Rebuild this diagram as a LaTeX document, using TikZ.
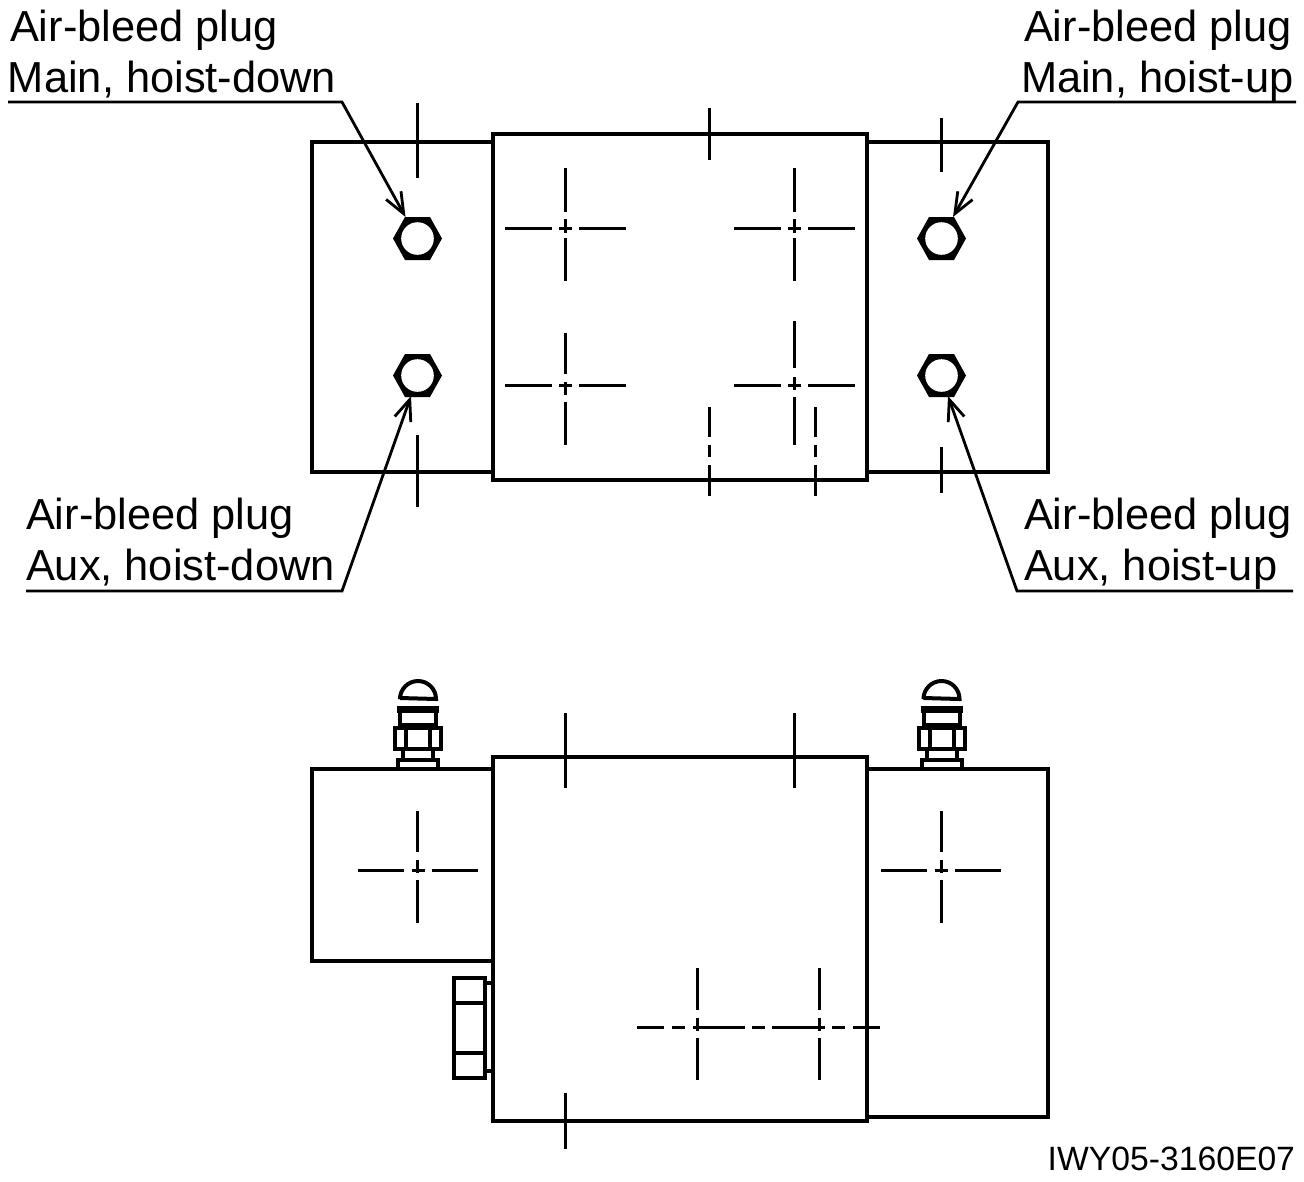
\documentclass[tikz,border=0pt]{standalone}
\usepackage{fontspec}
\setmainfont{Liberation Sans}
\usetikzlibrary{arrows.meta}
\tikzset{
  body/.style={draw=black,line width=4pt,line join=miter},
  thin axis/.style={draw=black,line width=3pt},
  leader/.style={draw=black,line width=2.8pt,-{Straight Barb[length=21pt,width=17pt,line width=2.8pt]}},
  label/.style={anchor=base west,inner sep=0pt,outer sep=0pt,font=\fontsize{43.4}{43.4}\selectfont},
  code/.style={anchor=base east,inner sep=0pt,outer sep=0pt,font=\fontsize{33.7}{33.7}\selectfont},
}
\newcommand{\hexplug}[2]{%
  \fill[black] (#1-24.5,#2) -- (#1-12.5,#2-21.5) -- (#1+12.5,#2-21.5) -- (#1+24.5,#2) -- (#1+12.5,#2+21.5) -- (#1-12.5,#2+21.5) -- cycle;
  \fill[white] (#1,#2) circle[radius=16.3];
}
\newcommand{\topplug}[1]{%
  \draw[body] (#1-18,698) -- (#1-18,699) arc[start angle=180,end angle=360,radius=18] -- (#1+18,699) -- cycle;
  \draw[body,line width=7pt] (#1-21,709.5) -- (#1+21,709.5);
  \draw[body] (#1-18,709) -- (#1-18,727) (#1+18,709) -- (#1+18,727);
  \draw[body,line width=6pt] (#1-18,726) -- (#1+18,726);
  \draw[body] (#1-23,728) rectangle (#1+23,749);
  \draw[body] (#1-12,728) -- (#1-12,749) (#1+12,728) -- (#1+12,749);
  \draw[body] (#1-15,749) -- (#1-15,760) (#1+15,749) -- (#1+15,760);
  \draw[body] (#1-20,769) -- (#1-20,760) -- (#1+20,760) -- (#1+20,769);
}
\begin{document}
\begin{tikzpicture}[x=1pt,y=-1pt]
\useasboundingbox (0,0) rectangle (1304,1181);

% top view bodies
\draw[body] (493,142) -- (312,142) -- (312,472) -- (493,472);
\draw[body] (867,142) -- (1048,142) -- (1048,472) -- (867,472);
\draw[body] (493,134) rectangle (867,480);

% top view axes
\draw[thin axis] (417,103) -- (417,178) (417,435) -- (417,507);
\draw[thin axis] (941,118) -- (941,172) (941,447) -- (941,493);
\draw[thin axis] (709,108) -- (709,160);
\draw[thin axis] (709,407) -- (709,437) (709,445) -- (709,457) (709,465) -- (709,496);
\draw[thin axis] (815,407) -- (815,437) (815,445) -- (815,457) (815,465) -- (815,496);
\foreach \cx in {565,794} {
  \draw[thin axis] (\cx-60,228) -- (\cx-13,228) (\cx-6,228) -- (\cx+7,228) (\cx+14,228) -- (\cx+61,228);
  \draw[thin axis] (\cx,168) -- (\cx,212) (\cx,219) -- (\cx,233) (\cx,238) -- (\cx,281);
  \draw[thin axis] (\cx-60,385.5) -- (\cx-13,385.5) (\cx-6,385.5) -- (\cx+7,385.5) (\cx+14,385.5) -- (\cx+61,385.5);
}
\draw[thin axis] (565,333) -- (565,374) (565,382) -- (565,395) (565,402) -- (565,445);
\draw[thin axis] (794,321) -- (794,368) (794,377) -- (794,390) (794,397) -- (794,445);

% hex plugs
\hexplug{417.5}{238.5}
\hexplug{417.5}{375.5}
\hexplug{941.5}{238.5}
\hexplug{941.5}{375.5}

% labels
\node[label] (lmt) at (10,41) {Air-bleed plug};
\node[label] (lmb) at (8,92) {Main, hoist-down};
\node[label] (rmt) at (1024,41) {Air-bleed plug};
\node[label] (rmb) at (1021,92) {Main, hoist-up};
\node[label] (lat) at (26,529) {Air-bleed plug};
\node[label] (lab) at (26,580) {Aux, hoist-down};
\node[label] (rat) at (1024,529) {Air-bleed plug};
\node[label] (rab) at (1024,580) {Aux, hoist-up};
\node[code] (drawing) at (1295,1170) {IWY05-3160E07};

% leaders
\coordinate (a1) at (8,102);    \coordinate (a2) at (342,102);  \coordinate (a3) at (405.5,217);
\coordinate (b1) at (1296,102); \coordinate (b2) at (1018,102); \coordinate (b3) at (953,217);
\coordinate (c1) at (26,591);   \coordinate (c2) at (342,591);  \coordinate (c3) at (411,396);
\coordinate (d1) at (1293,591); \coordinate (d2) at (1017,591); \coordinate (d3) at (948,396);
\draw[leader] (a1) -- (a2) -- (a3);
\draw[leader] (b1) -- (b2) -- (b3);
\draw[leader] (c1) -- (c2) -- (c3);
\draw[leader] (d1) -- (d2) -- (d3);

% bottom view bodies
\draw[body] (493,769) -- (312,769) -- (312,961) -- (493,961);
\draw[body] (867,769) -- (1048,769) -- (1048,1117) -- (867,1117);
\draw[body] (493,757) rectangle (867,1121);

% bottom view plugs
\topplug{418}
\topplug{941.5}

% side bolt
\draw[body] (453.5,977.5) rectangle (485,1078);
\draw[body] (453.5,1003) -- (485,1003) (453.5,1053) -- (485,1053);
\draw[body] (485,983) -- (493,983) (485,1071) -- (493,1071);

% bottom view axes
\draw[thin axis] (565,713) -- (565,788) (794,713) -- (794,788) (565,1093) -- (565,1149);
\foreach \cx in {417.5,941} {
  \draw[thin axis] (\cx-60,870) -- (\cx-14,870) (\cx-6,870) -- (\cx+7,870) (\cx+14,870) -- (\cx+60,870);
  \draw[thin axis] (\cx,811) -- (\cx,852) (\cx,860) -- (\cx,873) (\cx,880) -- (\cx,923);
}
\draw[thin axis] (637,1027) -- (664,1027) (672,1027) -- (685,1027) (693,1027) -- (745,1027)
  (752,1027) -- (765,1027) (772,1027) -- (825,1027) (832,1027) -- (845,1027) (853,1027) -- (880,1027);
\foreach \cx in {697,819} {
  \draw[thin axis] (\cx,968) -- (\cx,1010) (\cx,1018) -- (\cx,1031) (\cx,1038) -- (\cx,1080);
}
\end{tikzpicture}
\end{document}
